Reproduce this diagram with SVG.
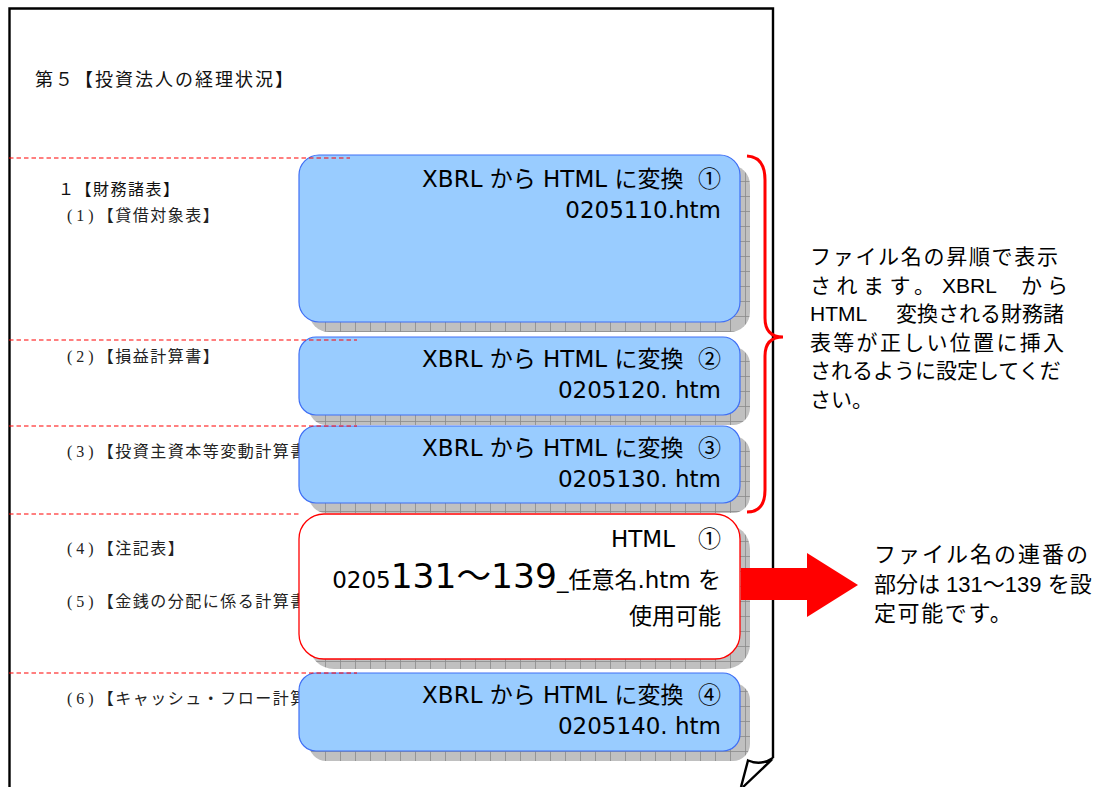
<svg xmlns="http://www.w3.org/2000/svg" width="1107" height="787" viewBox="0 0 1107 787">
<style>
.page{fill:none;stroke:#000;stroke-width:2.4}
.hd{font-family:"Noto Sans CJK JP","Noto Sans",sans-serif;fill:#111}
.lt{font-family:"Liberation Serif","Noto Sans CJK JP",serif;font-size:16px;letter-spacing:1.5px;fill:#222}
.dash{stroke:#ff0000;stroke-width:1.2;stroke-dasharray:4.5 3;fill:none}
.shadow{fill:url(#grid)}
.blue{fill:#99ccff;stroke:#3f6ff5;stroke-width:1.2}
.white{fill:#fff;stroke:#ff0000;stroke-width:1.3}
.bt{font-family:"DejaVu Sans","Noto Sans CJK JP",sans-serif;font-size:23px;fill:#000;text-anchor:end}
.cj{font-family:"Noto Sans CJK JP",sans-serif}
.nt{font-family:"Liberation Sans","Noto Sans CJK JP",sans-serif;font-size:21px;fill:#000}
.nt2{font-family:"Liberation Sans","Noto Sans CJK JP",sans-serif;font-size:22px;fill:#000}
</style>
<defs>
<pattern id="grid" patternUnits="userSpaceOnUse" x="10" y="1" width="15" height="15">
<rect width="15" height="15" fill="#c0c0c0"/>
<path d="M0 0.5H15M0.5 0V15" stroke="#8a8a8a" stroke-width="0.8"/>
</pattern>
</defs>
<rect width="1107" height="787" fill="#fff"/>
<g id="page">
<path class="page" d="M9.5 787V8.5H773V758"/>
<path class="page" d="M773 758Q761 766 748 760.5L741 787M772 759.5L743 787" stroke-width="2.2"/>
</g>
<g id="page-text">
<text class="hd" x="35" y="86" font-size="18" letter-spacing="2">第５【投資法人の経理状況】</text>
<text class="hd" x="58" y="195" font-size="16" letter-spacing="1.5">１【財務諸表】</text>
<text class="lt" x="67" y="221"><tspan letter-spacing="4">(1)</tspan>【貸借対象表】</text>
<text class="lt" x="67" y="362"><tspan letter-spacing="4">(2)</tspan>【損益計算書】</text>
<text class="lt" x="67" y="457"><tspan letter-spacing="4">(3)</tspan>【投資主資本等変動計算書】</text>
<text class="lt" x="67" y="554"><tspan letter-spacing="4">(4)</tspan>【注記表】</text>
<text class="lt" x="67" y="607"><tspan letter-spacing="4">(5)</tspan>【金銭の分配に係る計算書】</text>
<text class="lt" x="67" y="704"><tspan letter-spacing="4">(6)</tspan>【キャッシュ・フロー計算書】</text>
</g>
<g id="box1">
<rect class="shadow" x="309" y="165" width="441" height="167" rx="20"/>
<rect class="blue" x="299" y="155" width="441" height="167" rx="20"/>
<text class="bt" x="721" y="187" xml:space="preserve">XBRL から HTML に変換  <tspan class="cj">①</tspan></text>
<text class="bt" x="721" y="218">0205110.htm</text>
</g>
<g id="box2">
<rect class="shadow" x="309" y="347" width="441" height="78" rx="17"/>
<rect class="blue" x="299" y="337" width="441" height="78" rx="17"/>
<text class="bt" x="721" y="367" xml:space="preserve">XBRL から HTML に変換  <tspan class="cj">②</tspan></text>
<text class="bt" x="721" y="398">0205120. htm</text>
</g>
<g id="box3">
<rect class="shadow" x="309" y="436" width="441" height="77" rx="17"/>
<rect class="blue" x="299" y="426" width="441" height="77" rx="17"/>
<text class="bt" x="721" y="456" xml:space="preserve">XBRL から HTML に変換  <tspan class="cj">③</tspan></text>
<text class="bt" x="721" y="487">0205130. htm</text>
</g>
<g id="box4">
<rect class="shadow" x="309" y="524" width="441" height="145" rx="25"/>
<rect class="white" x="299" y="514" width="441" height="145" rx="25"/>
<text class="bt" x="721" y="547">HTML　<tspan class="cj">①</tspan></text>
<text class="bt" x="721" y="588">0205<tspan font-size="34.5">131～139</tspan>_任意名.htm を</text>
<text class="bt" x="721" y="624">使用可能</text>
</g>
<g id="box5">
<rect class="shadow" x="309" y="683" width="441" height="78" rx="17"/>
<rect class="blue" x="299" y="673" width="441" height="78" rx="17"/>
<text class="bt" x="721" y="703" xml:space="preserve">XBRL から HTML に変換  <tspan class="cj">④</tspan></text>
<text class="bt" x="721" y="734">0205140. htm</text>
</g>
<g id="dividers">
<path class="dash" d="M9 158H350M9 340H357M9 426H357M9 514H299M9 673H357"/>
</g>
<g id="connectors">
<path id="brace" d="M747 156Q765 157 765 180V318Q765 337 783 337Q765 337 765 356V490Q765 512 747 512" fill="none" stroke="#ff0000" stroke-width="3"/>
<polygon id="arrow" points="741,568 807,568 807,553 858,585 807,617 807,600 741,600" fill="#ff0000"/>
</g>
<g id="note1">
<text class="nt" x="810" y="264" textLength="248" lengthAdjust="spacing">ファイル名の昇順で表示</text>
<text class="nt" x="810" y="292.6"><tspan letter-spacing="5.5">されます。</tspan><tspan x="942">XBRL </tspan><tspan x="1021" letter-spacing="5">から</tspan></text>
<text class="nt" x="810" y="321.2">HTML <tspan x="896">変換される財務諸</tspan></text>
<text class="nt" x="810" y="349.8" textLength="254" lengthAdjust="spacing">表等が正しい位置に挿入</text>
<text class="nt" x="810" y="378.4">されるように設定してくだ</text>
<text class="nt" x="810" y="407">さい。</text>
</g>
<g id="note2">
<text class="nt2" x="874" y="562" letter-spacing="2">ファイル名の連番の</text>
<text class="nt2" x="874" y="592">部分は 131～139 を設</text>
<text class="nt2" x="874" y="621" letter-spacing="1.6">定可能です。</text>
</g>
</svg>
